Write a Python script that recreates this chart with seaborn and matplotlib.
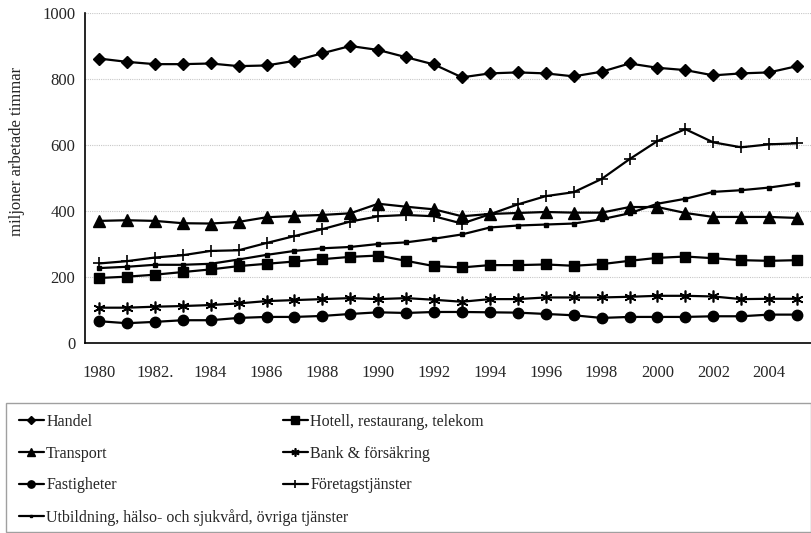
import numpy as np
import pandas as pd
import seaborn as sns
import matplotlib.pyplot as plt
from matplotlib.patches import Rectangle

years = list(range(1980, 2006))
year_labels = ['1980', '1982.', '1984', '1986', '1988', '1990', '1992',
               '1994', '1996', '1998', '2000', '2002', '2004']

handel = [862, 852, 845, 845, 847, 839, 841, 855, 878, 900, 888, 866, 844,
          805, 817, 820, 817, 808, 822, 847, 834, 827, 811, 817, 820, 839]
hotell = [197, 201, 207, 215, 223, 233, 240, 247, 254, 261, 265, 249, 233,
          229, 236, 236, 238, 234, 239, 249, 258, 262, 257, 251, 249, 251]
transport = [370, 372, 370, 363, 362, 367, 381, 385, 388, 393, 422, 413, 405,
             384, 391, 394, 397, 395, 395, 412, 412, 394, 382, 382, 382, 379]
bank = [107, 107, 110, 112, 115, 120, 127, 130, 133, 136, 133, 136, 131,
        125, 133, 133, 138, 138, 138, 140, 143, 143, 141, 133, 134, 134]
fastigheter = [66, 60, 64, 69, 69, 76, 79, 79, 82, 88, 93, 91, 94,
               94, 93, 92, 88, 84, 76, 79, 79, 79, 81, 81, 86, 86]
foretag = [241, 248, 259, 266, 279, 281, 303, 324, 345, 368, 384, 388, 384,
           362, 390, 420, 445, 457, 497, 557, 612, 648, 608, 593, 602, 605]
utbildning = [227, 231, 237, 237, 240, 253, 267, 279, 287, 291, 300, 305, 316,
              329, 350, 356, 359, 362, 375, 393, 422, 437, 458, 463, 471, 483]

series = {
    'Handel': handel,
    'Hotell, restaurang, telekom': hotell,
    'Transport': transport,
    'Bank & försäkring': bank,
    'Fastigheter': fastigheter,
    'Företagstjänster': foretag,
    'Utbildning, hälso- och sjukvård, övriga tjänster': utbildning,
}
# marker, size, edge width
styles = {
    'Handel': ('D', 6.5, 1),
    'Hotell, restaurang, telekom': ('s', 7.5, 1),
    'Transport': ('^', 8, 1),
    'Bank & försäkring': ((6, 2, 0), 8.5, 1.2),
    'Fastigheter': ('o', 7.5, 1),
    'Företagstjänster': ('+', 9, 1.2),
    'Utbildning, hälso- och sjukvård, övriga tjänster': ('s', 2.8, 1),
}

df = pd.DataFrame(series)
df['idx'] = np.arange(len(years))
long = df.melt(id_vars='idx', var_name='serie', value_name='timmar')

sns.set_style('white')
plt.rcParams['font.family'] = ['Liberation Serif', 'DejaVu Serif']

fig = plt.figure(figsize=(8.11, 5.33), dpi=100)
ax = fig.add_axes([85 / 811, 1 - 343 / 533, 726 / 811, 330 / 533])

for name in series:
    m, ms, mew = styles[name]
    sns.lineplot(data=long[long['serie'] == name], x='idx', y='timmar', ax=ax,
                 color='black', lw=1.6, marker=m, markersize=ms,
                 markeredgewidth=mew, markeredgecolor='black', label=name,
                 legend=False, zorder=3, clip_on=False)

ax.set_xlim(-0.5, len(years) - 0.5)
ax.set_ylim(0, 1000)
ax.set_yticks(range(0, 1001, 200))
ax.yaxis.grid(True, color='#c8c8c8', lw=0.8, ls=(0, (1, 1)))
ax.set_axisbelow(True)
ax.set_xticks(np.arange(-0.5, len(years), 1))
ax.set_xticklabels([])
ax.set_xticks(np.arange(0, len(years), 2), minor=True)
ax.set_xticklabels(year_labels, minor=True)
ax.tick_params(axis='x', which='major', direction='out', length=5, width=1, color='black')
ax.tick_params(axis='x', which='minor', length=0, pad=16, labelsize=12)
ax.tick_params(axis='y', direction='out', length=5, width=1, color='black', pad=2, labelsize=12)
for s in ['top', 'right']:
    ax.spines[s].set_visible(False)
for s in ['left', 'bottom']:
    ax.spines[s].set_color('black')
    ax.spines[s].set_linewidth(1.2)
ax.set_xlabel('')
ax.set_ylabel('miljoner arbetade timmar', fontsize=12)
ax.yaxis.set_label_coords(-0.083, 0.58)

handles, labels = ax.get_legend_handles_labels()
lookup = dict(zip(labels, handles))
left_col = ['Handel', 'Transport', 'Fastigheter',
            'Utbildning, hälso- och sjukvård, övriga tjänster']
right_col = ['Hotell, restaurang, telekom', 'Bank & försäkring', 'Företagstjänster']
leg_kw = dict(loc='upper left', frameon=False, fontsize=11.5, handlelength=1.55,
              handletextpad=0.15, markerscale=0.7, labelspacing=0.98,
              borderpad=0, borderaxespad=0)
fig.legend([lookup[k] for k in left_col], left_col,
           bbox_to_anchor=(19 / 811, 1 - 414 / 533), **leg_kw)
fig.legend([lookup[k] for k in right_col], right_col,
           bbox_to_anchor=(283 / 811, 1 - 414 / 533), **leg_kw)
fig.patches.append(Rectangle((6 / 811, 0.002), 805 / 811, (533 - 404) / 533,
                             transform=fig.transFigure, fill=False,
                             edgecolor='#a0a0a0', lw=1))

fig.savefig('out.png', dpi=100)
